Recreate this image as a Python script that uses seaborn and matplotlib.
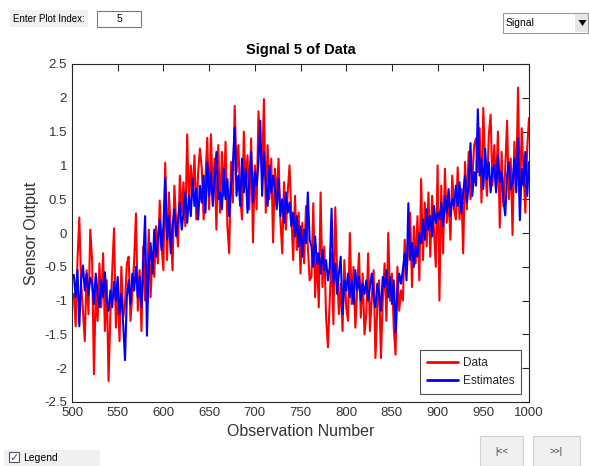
import numpy as np
import pandas as pd
import matplotlib
matplotlib.use("Agg")
import matplotlib.pyplot as plt
from matplotlib.patches import Rectangle, Polygon
import seaborn as sns

# observation numbers (every 2nd observation, 502..1000)
observations = np.arange(502, 1001, 2)

data_values = [
    -0.90, -1.38, -0.40, 0.23, -0.75, -1.15, -1.60, -0.55, -1.20, 0.05,
    -0.40, -2.09, -0.85, -1.30, -0.45, -1.10, -0.30, -1.45, -0.70, -2.19,
    -1.20, -0.55, 0.07, -1.40, -0.80, -1.60, -0.50, -1.25, -1.05, -0.45,
    -0.35, -1.30, -0.90, -0.40, 0.29, -1.15, -0.55, -1.45, -0.20, -1.00,
    -0.80, 0.05, -0.95, -0.30, -0.65, 0.10, -0.45, 0.48, -0.20, -0.55,
    1.04, -0.40, 0.60, 0.05, -0.55, 0.70, 0.15, -0.20, 0.85, 0.30,
    0.75, 0.10, 1.46, 0.40, 1.00, 0.55, 1.15, 0.20, 0.90, 1.25,
    0.95, 0.20, 0.80, 1.41, 0.35, 1.46, 0.60, 1.10, 0.05, 1.30,
    0.30, 1.20, 0.55, 1.35, 0.10, -0.30, 1.05, 0.45, 1.88, 0.90,
    1.30, 0.55, 0.20, 1.50, 0.70, 1.15, 0.35, 1.40, -0.14, 1.00,
    0.35, 1.80, 1.25, 0.90, 1.98, 0.30, 1.30, 0.50, 1.10, -0.14,
    0.95, 0.50, 1.10, 0.20, -0.30, 0.75, 0.05, 0.60, 1.00, 0.25,
    -0.40, 0.55, -0.25, 0.30, -0.60, 0.15, -0.45, 0.40, -0.20, -0.70,
    -0.65, 0.44, -0.95, -0.30, -1.10, 0.60, -0.80, -0.20, -1.25, -1.69,
    -1.00, -0.30, -1.35, 0.38, -0.55, -1.20, -0.75, -1.45, -0.40, -1.10,
    -1.30, 0.00, -1.05, -0.50, -1.40, -0.85, -0.30, -1.25, -0.60, -1.50,
    -1.20, -0.30, -1.45, -0.95, -0.55, -1.85, -1.10, -0.70, -1.85, -1.00,
    -0.45, -1.30, 0.00, -1.00, -0.60, -1.40, -1.80, -0.50, -1.15, -0.85,
    -1.00, -0.10, -0.60, -0.25, 0.30, -0.80, 0.10, -0.45, 0.25, -0.70,
    0.80, -0.40, 0.45, -0.20, 0.60, -0.35, 0.55, 0.05, -0.50, 1.00,
    -1.00, 0.70, -0.30, 0.95, 0.15, 0.55, -0.10, 0.85, 0.35, 0.20,
    0.97, 0.20, 0.65, -0.30, 1.05, 0.35, 1.20, 0.50, 0.80, 1.30,
    1.40, 0.90, 1.55, 0.45, 1.85, 1.00, 0.55, 1.45, 1.75, 0.70,
    1.30, 0.65, 1.50, 0.08, 1.20, 0.40, 0.95, 1.66, 0.50, 1.10,
    -0.03, 1.35, 0.70, 2.15, 0.45, 1.55, 0.90, 0.30, 1.25, 1.70,
]

# model estimates
estimate_values = [
    -0.62, -0.95, -0.55, -1.38, -0.70, -0.48, -0.85, -0.60, -0.92, -0.66,
    -0.75, -1.05, -0.60, -0.90, -1.10, -0.70, -0.95, -0.58, -1.00, -1.15,
    -0.85, -1.10, -0.72, -1.00, -0.65, -1.20, -0.90, -1.35, -1.88, -0.95,
    -0.70, -1.05, -0.60, -0.85, -0.50, -0.95, -0.65, -1.10, -0.40, 0.25,
    -1.52, -0.45, -0.15, -0.60, 0.05, -0.35, -0.10, 0.20, -0.25, 0.10,
    0.82, -0.10, 0.25, -0.30, 0.10, 0.35, -0.05, 0.20, 0.45, 0.05,
    0.30, 0.60, 0.15, 0.55, 0.25, 0.80, 0.40, 0.65, 0.20, 0.70,
    0.45, 0.85, 0.30, 1.05, 0.55, 0.90, 0.40, 0.75, 1.20, 0.50,
    0.60, 0.35, 0.95, 0.50, 0.80, 0.25, 0.70, 1.00, 1.56, 0.55,
    0.85, 0.40, 1.10, 0.60, 0.95, 0.30, 0.80, 1.20, 0.45, 0.90,
    0.70, 1.05, 1.66, 0.55, 1.20, 0.75, 0.40, 1.00, 0.60, 0.85,
    0.65, 0.35, 0.80, 0.25, 0.50, 0.15, 0.60, 0.30, 0.45, 0.10,
    0.30, -0.05, 0.25, -0.20, 0.10, -0.35, 0.05, -0.15, 0.60, -0.10,
    -0.20, -0.50, -0.05, -0.45, -0.30, -0.60, -0.25, -0.55, -0.40, -0.70,
    -0.50, 0.36, -0.75, -0.45, -0.90, -0.60, -0.35, -1.20, -0.70, -0.85,
    -0.60, -0.95, -0.70, -1.05, -0.55, -0.85, -0.65, -1.00, -0.75, -0.90,
    -0.70, -1.00, -0.80, -0.60, -0.95, -1.10, -0.75, -0.90, -1.15, -0.65,
    -0.80, -0.55, -0.95, -0.65, -1.05, -0.70, -1.47, -0.85, -0.60, -0.75,
    -0.55, -0.30, -0.70, 0.44, -0.40, -0.15, -0.50, -0.20, -0.35, 0.00,
    -0.15, 0.20, -0.10, 0.35, 0.05, 0.25, -0.05, 0.40, 0.15, 0.30,
    0.20, 0.45, 0.10, 0.55, 0.30, 0.65, 0.25, 0.50, 0.40, 0.70,
    0.40, 0.75, 0.30, 0.60, 0.85, 0.45, 0.70, 1.33, 0.55, 0.90,
    0.70, 1.83, 0.85, 1.10, 0.65, 1.25, 0.80, 1.05, 0.60, 0.95,
    1.00, 0.60, 1.15, 0.75, 0.90, 0.50, 0.26, 0.85, 1.05, 0.65,
    0.75, 1.10, 0.60, 1.40, 0.19, 0.95, 0.70, 1.20, 0.55, 1.05,
]

series_names = ["Data", "Estimates"]
x_ticks = [500, 550, 600, 650, 700, 750, 800, 850, 900, 950, 1000]
y_ticks = [-2.5, -2, -1.5, -1, -0.5, 0, 0.5, 1, 1.5, 2, 2.5]

df = pd.concat([
    pd.DataFrame({"obs": observations, "value": data_values, "series": "Data"}),
    pd.DataFrame({"obs": observations, "value": estimate_values, "series": "Estimates"}),
])

sns.set_theme(style="white")
plt.rcParams["font.family"] = ["Liberation Sans", "DejaVu Sans"]

W, H = 589, 466
fig = plt.figure(figsize=(W / 100, H / 100), dpi=100)
fig.patch.set_facecolor("white")

# GUI widgets drawn in pixel coordinates on a background layer
gui = fig.add_axes([0, 0, 1, 1], zorder=0)
gui.set_xlim(0, W)
gui.set_ylim(H, 0)
gui.axis("off")

gui.add_patch(Rectangle((10, 10), 78, 17, facecolor="#f0f0f0", edgecolor="none"))
gui.text(13, 18.5, "Enter Plot Index:", fontsize=7, va="center", ha="left", color="black")
gui.add_patch(Rectangle((97, 11), 44, 16, facecolor="white", edgecolor="#7a7a7a", lw=0.8))
gui.text(119, 19, "5", fontsize=7.5, va="center", ha="center", color="black")

gui.add_patch(Rectangle((503, 13), 85, 20, facecolor="white", edgecolor="#9a9a9a", lw=0.8))
gui.add_patch(Rectangle((575, 14), 13, 18, facecolor="#e6e6e6", edgecolor="none"))
gui.add_patch(Polygon([[578.5, 20], [586.5, 20], [582.5, 26]], closed=True,
                      facecolor="black", edgecolor="none"))
gui.text(506, 23, "Signal", fontsize=7.5, va="center", ha="left", color="black")

gui.add_patch(Rectangle((4, 450), 96, 16, facecolor="#f0f0f0", edgecolor="none"))
gui.add_patch(Rectangle((9, 452), 10, 10, facecolor="white", edgecolor="#555555", lw=0.8))
gui.text(14, 457.5, "\u2713", fontsize=8, va="center", ha="center", color="#1f4fa0",
         family=["DejaVu Sans"], fontweight="bold")
gui.text(23, 458, "Legend", fontsize=7.5, va="center", ha="left", color="black")

gui.add_patch(Rectangle((480, 436), 43, 30, facecolor="#f0f0f0", edgecolor="#d0d0d0", lw=0.8))
gui.text(501.5, 451, "|<<", fontsize=6.5, va="center", ha="center", color="#333333")
gui.add_patch(Rectangle((533, 436), 47, 30, facecolor="#f0f0f0", edgecolor="#d0d0d0", lw=0.8))
gui.text(556.5, 451, ">>|", fontsize=6.5, va="center", ha="center", color="#333333")

# main plot
ax = fig.add_axes([72 / W, 1 - 402 / H, (529 - 72) / W, (402 - 64) / H], zorder=1)
sns.lineplot(data=df, x="obs", y="value", hue="series", hue_order=series_names,
             palette={"Data": "#ff0000", "Estimates": "#0000ff"},
             linewidth=1.5, ax=ax, legend=True, estimator=None, sort=False)

ax.set_xlim(500, 1000)
ax.set_ylim(-2.5, 2.5)
ax.set_xticks(x_ticks)
ax.set_yticks(y_ticks)
ax.set_yticklabels([f"{t:g}" for t in y_ticks])
ax.tick_params(direction="in", length=5, width=0.8, top=True, right=True,
               labelsize=9.5, colors="#262626", labelcolor="#333333")
for s in ax.spines.values():
    s.set_color("#262626")
    s.set_linewidth(0.8)
ax.set_xlabel("Observation Number", fontsize=11.5, color="#333333", labelpad=4)
ax.set_ylabel("Sensor Output", fontsize=11.5, color="#333333", labelpad=4)
ax.set_title("Signal 5 of Data", fontsize=10.5, fontweight="bold", color="black", pad=7)

leg = ax.legend(loc="lower right", frameon=True, fancybox=False, fontsize=8.5,
                handlelength=2.7, handletextpad=0.35, borderpad=0.55,
                labelspacing=0.55, borderaxespad=0.7)
leg.get_frame().set_edgecolor("#262626")
leg.get_frame().set_linewidth(0.8)
for line in leg.get_lines():
    line.set_linewidth(2)

fig.savefig("out.png", dpi=100)
